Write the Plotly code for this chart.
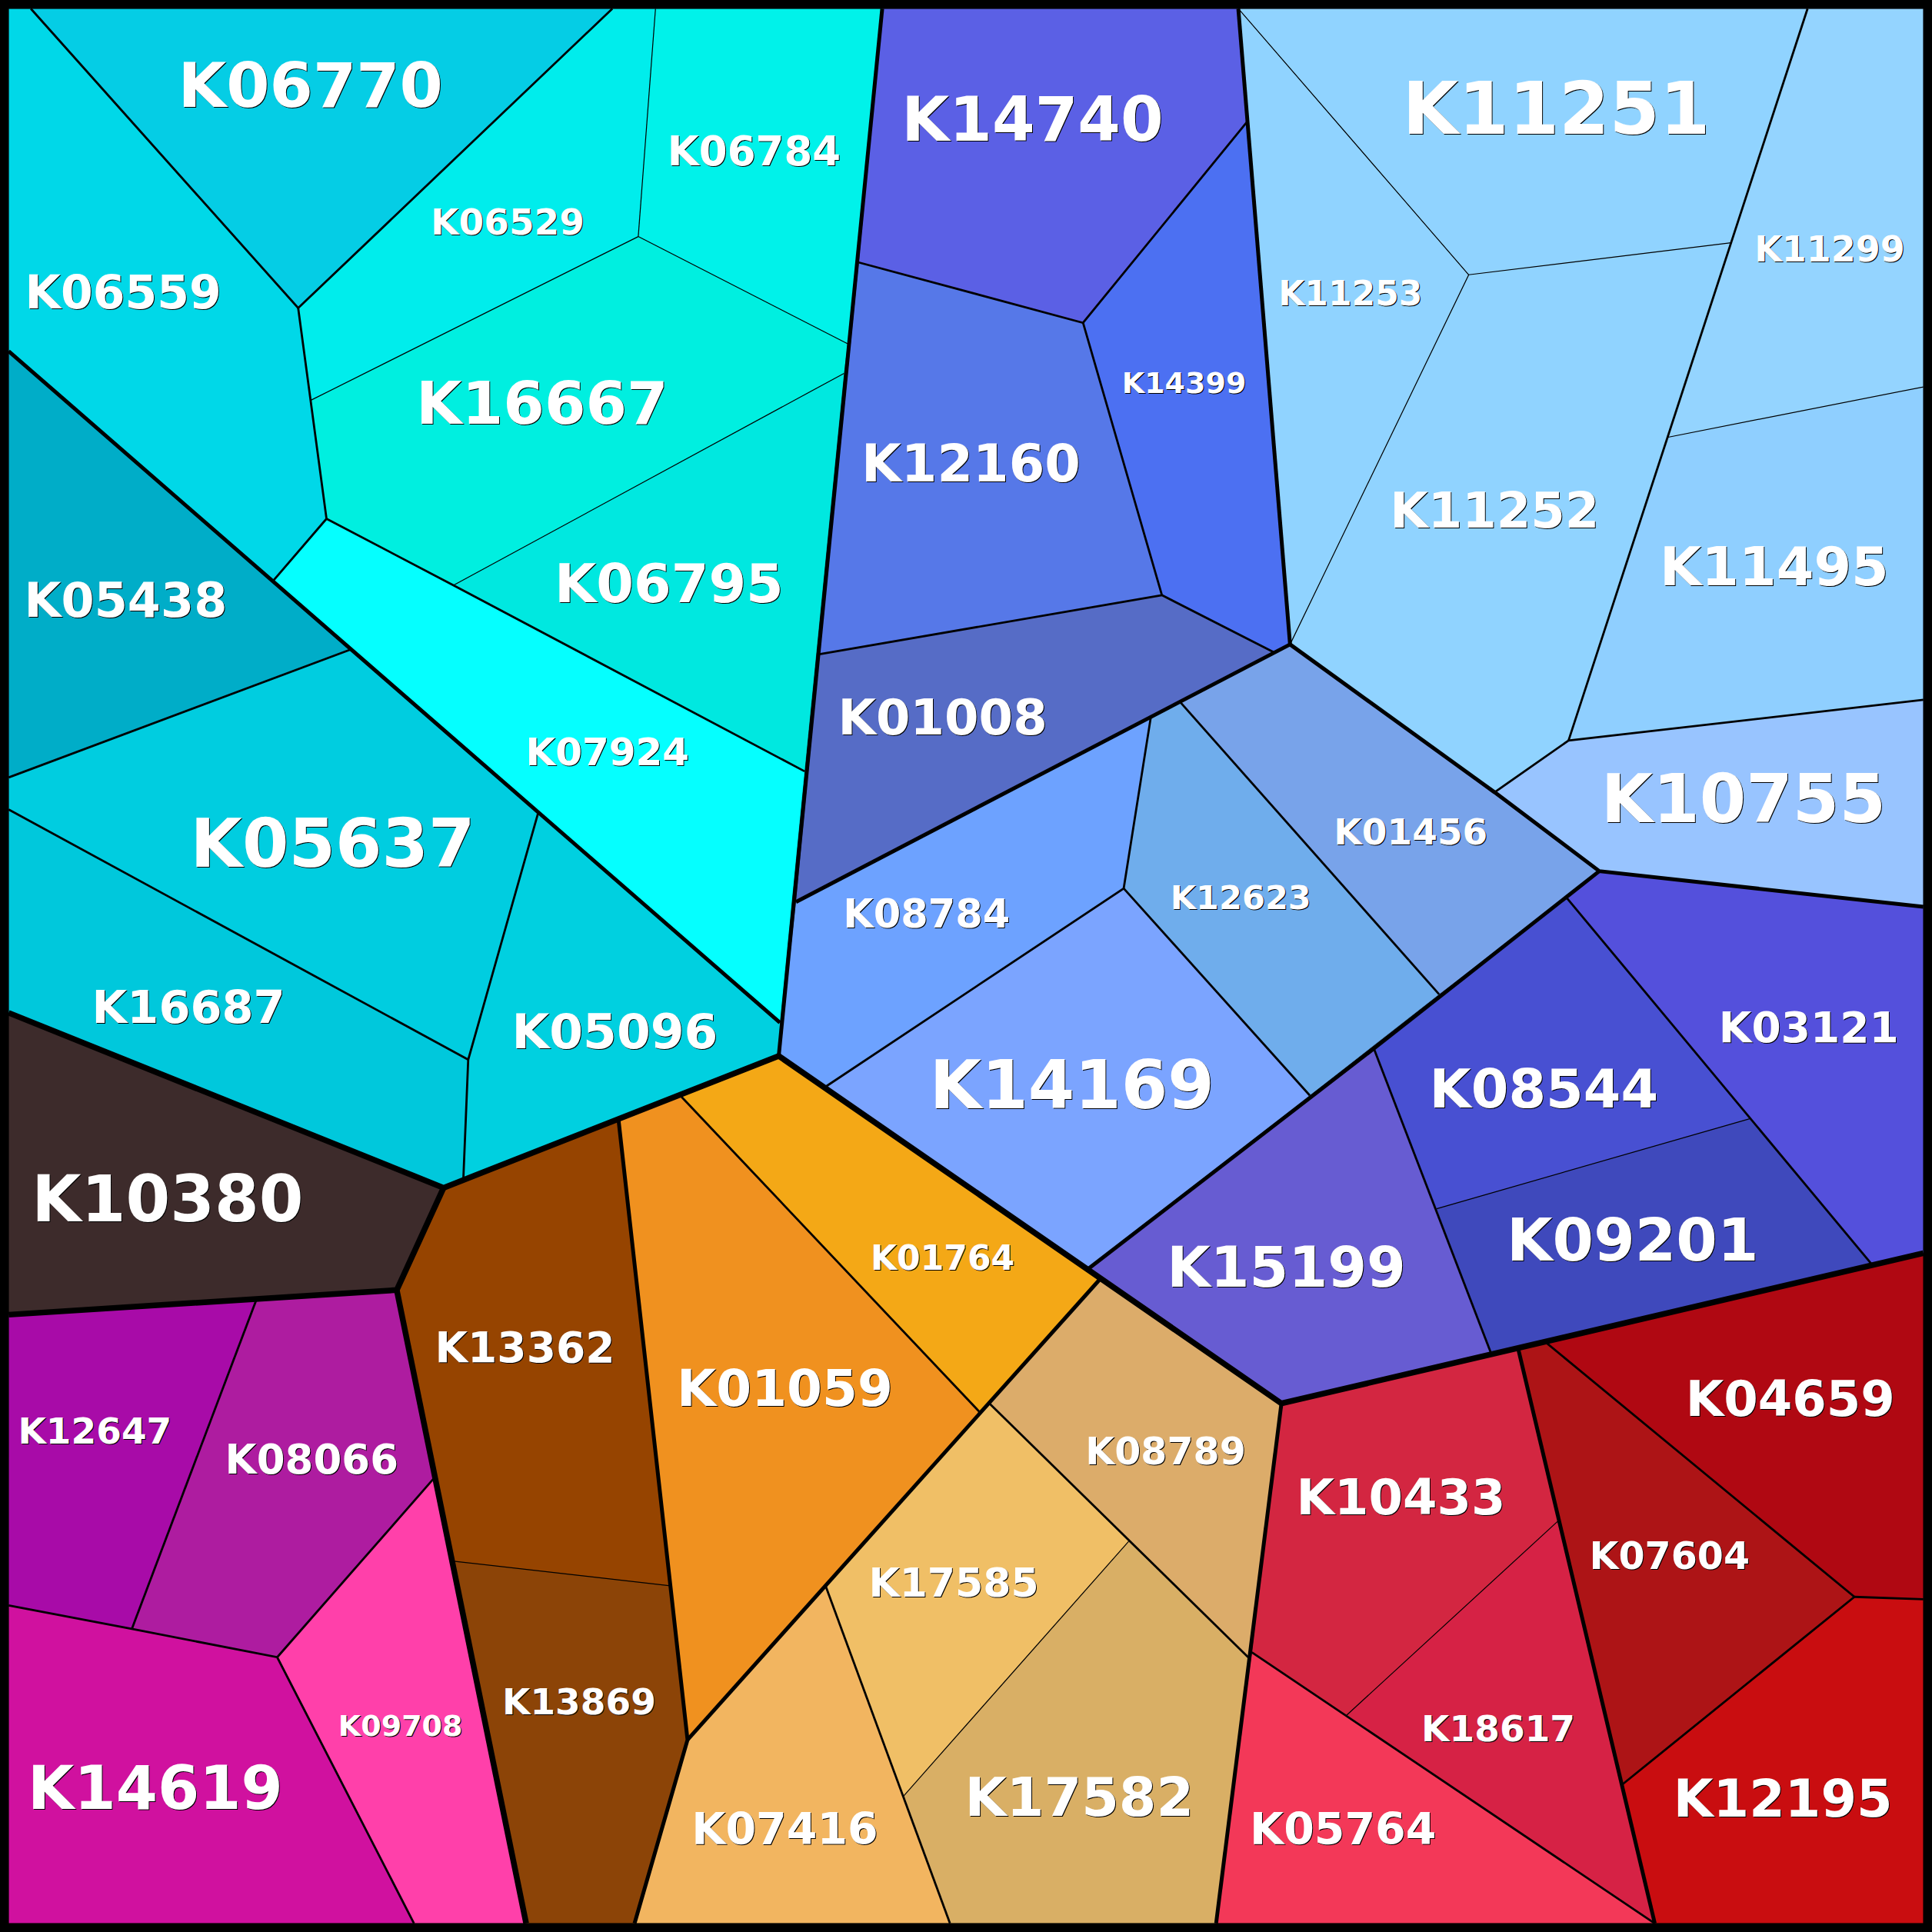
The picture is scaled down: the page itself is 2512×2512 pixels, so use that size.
import plotly.graph_objects as go

names = ["K06770","K06559","K06529","K06784","K16667","K06795","K07924","K05438","K05637","K16687","K05096","K10380",
 "K12647","K08066","K09708","K14619","K13362","K13869","K01059","K01764","K08789","K17585","K07416","K17582",
 "K10433","K18617","K05764","K07604","K04659","K12195","K15199","K09201","K08544","K03121","K14169","K12623",
 "K01456","K08784","K01008","K14399","K14740","K12160","K11253","K11251","K11252","K11299","K11495","K10755"]

colors = ["#05CDE5","#00D8E8","#00EDEC","#00F2EA","#00EFE0","#00E8E0","#05FFFF","#00ADC8","#00CDE0","#00C8DC","#00D0E0","#3D2B2B",
 "#A80BA8","#AE1CA0","#FF40AA","#D0119F","#964400","#8C4407","#F0911F","#F4A816","#DCAC6A","#F0BF66","#F2B560","#D9AF65",
 "#D32641","#D62245","#F33858","#AD1416","#B00812","#C90D10","#675CD2","#3F49BC","#4850D2","#5450DC","#7BA4FF","#6FADEC",
 "#78A3EA","#6DA2FF","#566CC6","#4C70F2","#5B60E5","#5678E8","#90D3FF","#90D3FF","#90D3FF","#94D4FF","#8FCFFF","#98C4FF"]

polygons = [
 [(25,7),(497,7),(242,250)],
 [(7,7),(25,7),(242,250),(265,421),(222,471),(7,285)],
 [(497,7),(532,7),(518,192),(252,325),(242,250)],
 [(532,7),(716,7),(688,279),(518,192)],
 [(518,192),(688,279),(685,303),(368,475),(265,421),(252,325)],
 [(685,303),(653,626),(368,475)],
 [(265,421),(368,475),(653,626),(633,830),(222,471)],
 [(7,285),(285,527),(7,631)],
 [(285,527),(437,659),(380,860),(7,657),(7,631)],
 [(7,657),(380,860),(376,958),(360,964),(7,822)],
 [(437,659),(633,830),(632,857),(376,958),(380,860)],
 [(7,822),(360,964),(322,1047),(7,1067)],
 [(7,1067),(208,1055),(107,1322),(7,1303)],
 [(208,1055),(322,1047),(352,1200),(225,1345),(107,1322)],
 [(352,1200),(427,1561),(336,1561),(225,1345)],
 [(7,1303),(107,1322),(225,1345),(336,1561),(7,1561)],
 [(322,1047),(360,964),(502,909),(544,1287),(368,1267)],
 [(368,1267),(544,1287),(558,1412),(515,1561),(427,1561)],
 [(502,909),(552,889),(796,1147),(558,1412)],
 [(552,889),(632,857),(892,1039),(796,1147)],
 [(892,1039),(1040,1139),(1013,1345),(916,1251),(803,1139)],
 [(803,1139),(916,1251),(733,1458),(670,1287)],
 [(670,1287),(733,1458),(771,1561),(515,1561),(558,1412)],
 [(916,1251),(1013,1345),(987,1561),(771,1561),(733,1458)],
 [(1040,1139),(1232,1094),(1265,1234),(1093,1392),(1016,1341)],
 [(1265,1234),(1317,1448),(1343,1561),(1093,1392)],
 [(1016,1341),(1093,1392),(1343,1561),(987,1561)],
 [(1232,1094),(1254,1089),(1505,1296),(1317,1448)],
 [(1254,1089),(1561,1017),(1561,1298),(1505,1296)],
 [(1505,1296),(1561,1298),(1561,1561),(1343,1561),(1317,1448)],
 [(883,1030),(1115,851),(1166,981),(1210,1098),(1040,1139)],
 [(1166,981),(1420,908),(1519,1026),(1210,1098)],
 [(1115,851),(1271,728),(1420,908),(1166,981)],
 [(1271,728),(1298,707),(1561,736),(1561,1017),(1519,1026),(1420,908)],
 [(670,882),(912,721),(1063,889),(883,1030)],
 [(934,582),(958,570),(1168,807),(1063,889),(912,721)],
 [(958,570),(1047,523),(1298,707),(1168,807)],
 [(646,732),(934,582),(912,721),(670,882),(632,857)],
 [(665,531),(943,483),(1035,530),(646,732)],
 [(1012,99),(1047,523),(1035,530),(943,483),(879,262)],
 [(716,7),(1005,7),(1012,99),(879,262),(697,213)],
 [(697,213),(879,262),(943,483),(665,531)],
 [(1005,7),(1192,223),(1047,523),(1012,99)],
 [(1005,7),(1467,7),(1405,197),(1192,223)],
 [(1192,223),(1405,197),(1353,355),(1273,601),(1213,643),(1047,523)],
 [(1467,7),(1561,7),(1561,314),(1353,355),(1405,197)],
 [(1353,355),(1561,314),(1561,568),(1273,601)],
 [(1273,601),(1561,568),(1561,736),(1298,707),(1213,643)],
]

label_x = [252,100,412,612,440,543,493,102,270,153,499,136,77,253,325,126,426,470,637,765,946,774,637,876,
 1137,1216,1090,1355,1453,1447,1044,1325,1253,1468,870,1007,1145,752,765,961,838,788,1096,1263,1213,1485,1440,1415]
label_y = [74,241,183,126,332,478,613,491,690,821,841,978,1164,1188,1403,1456,1097,1384,1131,1024,1181,1288,1488,1463,
 1219,1406,1488,1266,1139,1464,1033,1011,888,837,886,731,678,745,586,313,102,380,241,94,418,205,464,654]
label_size = [81,60,47,53,77,70,50,62,87,59,63,83,47,53,38,78,55,47,66,44,49,52,57,70,
 64,47,57,49,64,67,73,77,70,55,87,43,47,51,64,38,80,67,44,94,64,46,70,87]

hairline_edges = [
 [(1005,7),(1192,223),(1047,523)],[(1192,223),(1405,197)],[(1353,355),(1561,314)],
 [(733,1458),(916,1251)],[(1093,1392),(1265,1234)],[(368,475),(685,303)],[(252,325),(518,192)],
 [(518,192),(688,279)],[(532,7),(518,192)],[(368,1267),(544,1287)],[(1166,981),(1420,908)],
]
mid_edges = [
 [(25,7),(242,250),(497,7)],[(242,250),(265,421),(222,471)],[(265,421),(368,475),(653,626)],
 [(285,527),(7,631)],[(437,659),(380,860),(376,958)],[(380,860),(7,657)],
 [(208,1055),(107,1322)],[(352,1200),(225,1345)],[(7,1303),(107,1322),(225,1345),(336,1561)],
 [(552,889),(796,1147)],[(670,1287),(771,1561)],[(803,1139),(1013,1345)],[(1016,1341),(1343,1561)],
 [(1254,1089),(1505,1296),(1317,1448)],[(1505,1296),(1561,1298)],[(1115,851),(1210,1098)],
 [(1271,728),(1519,1026)],[(1561,568),(1273,601),(1213,643)],[(1273,601),(1467,7)],
 [(958,570),(1168,807)],[(912,721),(1063,889)],[(934,582),(912,721),(670,882)],
 [(697,213),(879,262),(1012,99)],[(879,262),(943,483),(1035,530)],[(665,531),(943,483)],
]
heavy_edges = [
 [(892,1039),(558,1412)],[(502,909),(558,1412),(515,1561)],[(1115,851),(883,1030)],
 [(1298,707),(1115,851)],[(1213,643),(1298,707),(1561,736)],[(1047,523),(1213,643)],
 [(646,732),(1047,523)],[(716,7),(632,857)],[(1005,7),(1047,523)],[(7,285),(633,830)],
 [(1040,1139),(987,1561)],[(1232,1094),(1343,1561)],
]
major_edges = [
 [(632,857),(360,964),(7,822)],[(360,964),(322,1047),(7,1067)],[(322,1047),(427,1561)],
 [(632,857),(1040,1139),(1561,1017)],
]
frame = [(0,0),(1568,0),(1568,1568),(0,1568),(0,0)]

fig = go.Figure()
for poly, color, name in zip(polygons, colors, names):
    ring = poly + [poly[0]]
    fig.add_trace(go.Scatter(x=[p[0] for p in ring], y=[p[1] for p in ring], mode="lines", fill="toself",
                             fillcolor=color, line=dict(width=0.5, color=color), name=name, hoverinfo="name"))

def add_edges(edges, width):
    xs, ys = [], []
    for e in edges:
        xs += [p[0] for p in e] + [None]
        ys += [p[1] for p in e] + [None]
    fig.add_trace(go.Scatter(x=xs, y=ys, mode="lines", line=dict(color="#000000", width=width),
                             hoverinfo="skip", connectgaps=False))

add_edges(hairline_edges, 1.2)
add_edges(mid_edges, 2.8)
add_edges(heavy_edges, 5)
add_edges(major_edges, 7.5)
add_edges([frame], 23)

fig.add_trace(go.Scatter(x=label_x, y=label_y, mode="text", text=names, textposition="middle center",
    textfont=dict(family="DejaVu Sans", size=label_size, color="#FFFFFF", weight="bold", shadow="1px 1px 0 #000000"),
    hoverinfo="skip"))

fig.update_layout(width=2512, height=2512, margin=dict(l=0, r=0, t=0, b=0), showlegend=False,
                  paper_bgcolor="#000000", plot_bgcolor="#000000",
                  xaxis=dict(range=[0,1568], visible=False, fixedrange=True),
                  yaxis=dict(range=[1568,0], visible=False, fixedrange=True))
fig.write_html("out.html", config=dict(displayModeBar=False), post_script="document.body.style.margin='0';")
